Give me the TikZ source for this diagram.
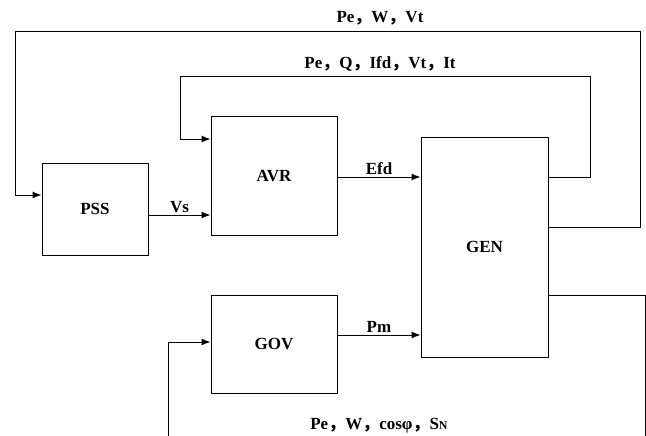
\documentclass[tikz,border=0pt]{standalone}
\usepackage{fontspec}
\setmainfont{Liberation Serif}
\newfontfamily\cjk{Noto Sans CJK SC}
\usetikzlibrary{arrows.meta}
\usetikzlibrary{positioning}
\newcommand{\dou}{{\cjk ，}}

\begin{document}
\begin{tikzpicture}[x=1pt, y=-1pt,
    font=\fontsize{17}{20}\selectfont\bfseries,
    block/.style={draw, line width=1pt, inner sep=0pt},
    sig/.style={line width=1pt, -{Latex[length=9pt,width=7pt]}},
    wire/.style={line width=1pt}]
  \useasboundingbox (0,0) rectangle (646,436);

  % 方框
  \node[block, minimum width=106pt, minimum height=92pt]  (pss) at (95,209)    {PSS};
  \node[block, minimum width=126pt, minimum height=118pt] (avr) at (274,176)   {AVR};
  \node[block, minimum width=127pt, minimum height=220pt] (gen) at (484.5,247) {GEN};
  \node[block, minimum width=126pt, minimum height=98pt]  (gov) at (274,344)   {GOV};

  % 正向信号
  \draw[sig] (pss.east |- 0,215) -- (avr.west |- 0,215)
    node[midway, above, inner sep=2pt] (vs) {Vs};
  \draw[sig] (avr.east |- 0,177) -- (gen.west |- 0,177)
    node[midway, above, inner sep=2pt] (efd) {Efd};
  \draw[sig] (gov.east |- 0,335) -- (gen.west |- 0,335)
    node[midway, above, inner sep=2pt] (pm) {Pm};

  % 反馈回路
  \coordinate (innerR) at (590,77);
  \coordinate (innerL) at (180,139);
  \draw[sig] (gen.east |- 0,177) -| (innerR) -| (innerL) -- (avr.west |- innerL);
  \node (lblavr) at (380,64) {Pe\dou Q\dou Ifd\dou Vt\dou It};

  \coordinate (outerR) at (640,32);
  \coordinate (outerL) at (15,195);
  \draw[sig] (gen.east |- 0,227) -| (outerR) -| (outerL) -- (pss.west |- outerL);
  \node (lblpss) at (380,18) {Pe\dou W\dou Vt};

  \coordinate (downR) at (645,436);
  \coordinate (downL) at (168,436);
  \draw[wire] (gen.east |- 0,295) -| (downR);
  \draw[sig] (downL) |- (gov.west |- 0,342);
  \node (lblgov) at (379,426) {Pe\dou W\dou cosφ\dou S{\fontsize{12}{14}\selectfont N}};
\end{tikzpicture}
\end{document}
